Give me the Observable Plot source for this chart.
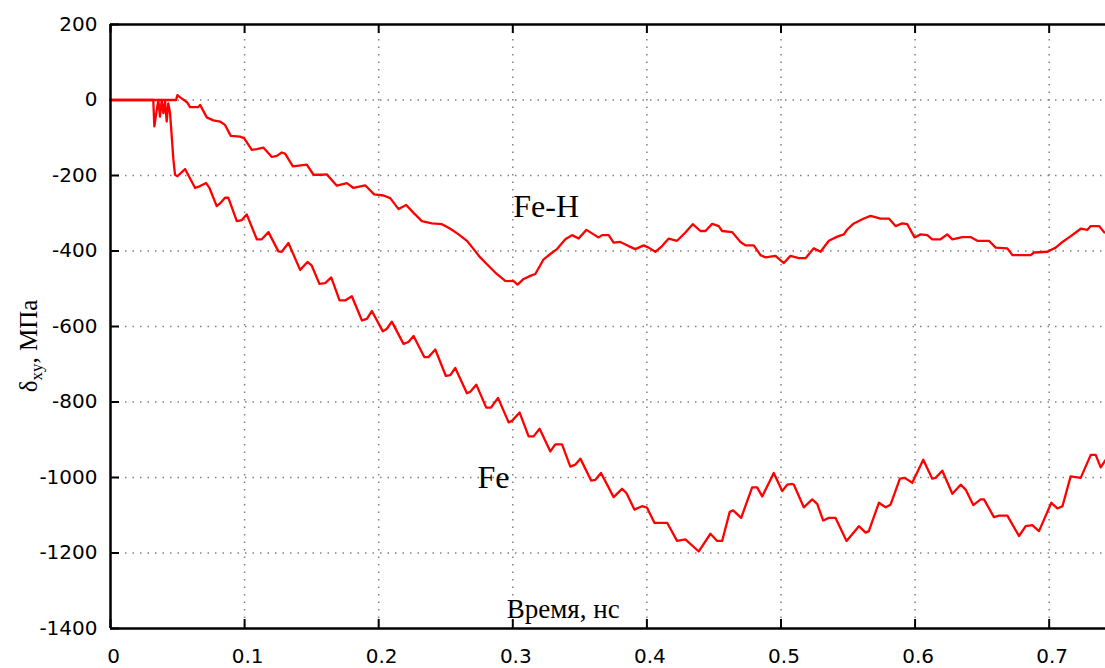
<!DOCTYPE html>
<html>
<head>
<meta charset="utf-8">
<script src="https://cdn.jsdelivr.net/npm/d3@7"></script>
<script src="https://cdn.jsdelivr.net/npm/@observablehq/plot@0.6"></script>
<style>
  html, body { margin: 0; padding: 0; background: #fff; }
  #chart svg { display: block; }
</style>
</head>
<body>
<div id="chart"></div>
<script>
// ---- data ----
const xTicks = [0, 0.1, 0.2, 0.3, 0.4, 0.5, 0.6, 0.7];
const yTicks = [200, 0, -200, -400, -600, -800, -1000, -1200, -1400];
const xTickLabels = ["0", "0.1", "0.2", "0.3", "0.4", "0.5", "0.6", "0.7"];

const feH_t = [0,0.0489,0.0499,0.0519,0.0556,0.0573,0.0593,0.0655,0.0668,0.0718,0.0767,0.0817,0.0854,0.0897,0.0966,0.0996,0.1054,0.1091,0.1140,0.1203,0.1240,0.1277,0.1302,0.1360,0.1464,0.1514,0.1576,0.1613,0.1688,0.1763,0.1812,0.1899,0.1966,0.2036,0.2086,0.2148,0.2205,0.2260,0.2322,0.2397,0.2472,0.2534,0.2596,0.2658,0.2708,0.2757,0.2807,0.2869,0.2944,0.3006,0.3036,0.3081,0.3131,0.3168,0.3230,0.3280,0.3330,0.3392,0.3442,0.3491,0.3549,0.3603,0.3640,0.3666,0.3715,0.3752,0.3802,0.3864,0.3914,0.3976,0.4013,0.4063,0.4113,0.4163,0.4225,0.4287,0.4342,0.4399,0.4437,0.4487,0.4536,0.4561,0.4636,0.4698,0.4735,0.4797,0.4847,0.4884,0.4959,0.5021,0.5071,0.5133,0.5183,0.5245,0.5295,0.5357,0.5420,0.5469,0.5494,0.5543,0.5618,0.5668,0.5743,0.5805,0.5854,0.5904,0.5942,0.5996,0.6041,0.6091,0.6128,0.6190,0.6240,0.6278,0.6352,0.6414,0.6464,0.6551,0.6601,0.6688,0.6726,0.6862,0.6887,0.6987,0.7049,0.7099,0.7148,0.7198,0.7235,0.7285,0.7310,0.7372,0.7409,0.7422];
const feH_s = [0,0,13,7,-2,-7,-19,-19,-13,-46,-54,-57,-66,-95,-97,-101,-132,-130,-126,-151,-148,-139,-142,-176,-171,-198,-198,-197,-227,-220,-233,-226,-250,-253,-260,-289,-278,-299,-321,-327,-329,-341,-356,-373,-395,-417,-435,-457,-479,-480,-489,-474,-466,-461,-422,-408,-395,-369,-358,-367,-344,-356,-364,-358,-358,-378,-376,-387,-395,-385,-391,-402,-387,-367,-373,-351,-329,-347,-347,-328,-334,-347,-350,-376,-385,-385,-411,-417,-413,-432,-413,-419,-419,-393,-402,-373,-362,-356,-343,-327,-314,-307,-314,-314,-334,-327,-329,-364,-356,-358,-369,-369,-356,-369,-363,-363,-373,-373,-391,-393,-411,-411,-404,-402,-391,-376,-364,-351,-341,-344,-334,-334,-350,-352];

const fe_t = [0,0.0319,0.0327,0.0345,0.0357,0.0369,0.0382,0.0394,0.0407,0.0419,0.0431,0.0444,0.0469,0.0481,0.0499,0.0556,0.0631,0.0668,0.0713,0.0738,0.0792,0.0817,0.0854,0.0879,0.0942,0.0979,0.1016,0.1091,0.1128,0.1178,0.1252,0.1277,0.1327,0.1414,0.1469,0.1501,0.1558,0.1601,0.1646,0.1708,0.1750,0.1800,0.1875,0.1912,0.1949,0.2031,0.2061,0.2098,0.2185,0.2222,0.2260,0.2340,0.2372,0.2422,0.2501,0.2534,0.2571,0.2658,0.2683,0.2728,0.2802,0.2837,0.2890,0.2969,0.2994,0.3051,0.3118,0.3155,0.3200,0.3280,0.3317,0.3367,0.3429,0.3466,0.3504,0.3584,0.3616,0.3658,0.3752,0.3815,0.3847,0.3907,0.3964,0.4001,0.4056,0.4151,0.4225,0.4287,0.4387,0.4474,0.4524,0.4561,0.4618,0.4643,0.4703,0.4785,0.4822,0.4860,0.4946,0.5009,0.5046,0.5084,0.5096,0.5170,0.5233,0.5270,0.5315,0.5357,0.5407,0.5489,0.5581,0.5631,0.5655,0.5730,0.5780,0.5817,0.5887,0.5922,0.5979,0.6061,0.6128,0.6153,0.6203,0.6278,0.6340,0.6377,0.6434,0.6489,0.6514,0.6588,0.6626,0.6688,0.6775,0.6825,0.6874,0.6924,0.7016,0.7061,0.7099,0.7160,0.7235,0.7310,0.7347,0.7384,0.7422];
const fe_s = [0,0,-70,-26,0,-44,0,-35,-4,-57,-9,-34,-158,-198,-202,-183,-233,-228,-220,-233,-281,-274,-259,-259,-321,-318,-303,-369,-369,-350,-401,-402,-379,-450,-429,-439,-487,-485,-470,-531,-531,-520,-584,-580,-559,-613,-606,-587,-646,-641,-625,-681,-681,-661,-731,-729,-710,-777,-773,-754,-815,-815,-789,-854,-850,-828,-891,-891,-871,-931,-912,-912,-971,-966,-950,-1008,-1006,-988,-1052,-1030,-1041,-1085,-1076,-1080,-1120,-1120,-1168,-1164,-1196,-1149,-1168,-1168,-1091,-1087,-1107,-1026,-1026,-1050,-988,-1036,-1019,-1017,-1019,-1079,-1058,-1070,-1114,-1107,-1107,-1168,-1129,-1146,-1142,-1067,-1079,-1072,-1003,-1001,-1014,-953,-1003,-1001,-982,-1043,-1019,-1032,-1073,-1058,-1058,-1105,-1101,-1101,-1155,-1129,-1126,-1142,-1067,-1082,-1076,-997,-1001,-940,-940,-973,-953];

const seriesLabels = ["Fe-H", "Fe"];
const seriesLabelX = [0.3004, 0.2736];
const seriesLabelY = [-311, -1027];

const xTitle = "Время, нс";
const yTitleMain = "δ";
const yTitleSub = "xy";
const yTitleRest = ", МПа";

// ---- build ----
const feH = feH_t.map((t, i) => ({t, s: feH_s[i]}));
const fe = fe_t.map((t, i) => ({t, s: fe_s[i]}));
const annots = seriesLabels.map((l, i) => ({l, x: seriesLabelX[i], y: seriesLabelY[i]}));
const gridXT = xTicks.filter(d => d > 0);
const gridYT = yTicks.filter(d => d < 200 && d > -1400);

const W = 1105, H = 668, ML = 110, MR = 0, MT = 24, MB = 40;
const frameW = W - ML - MR, frameH = H - MT - MB;
const tick = 9;

const plot = Plot.plot({
  width: W, height: H,
  marginLeft: ML, marginRight: MR, marginTop: MT, marginBottom: MB,
  style: {fontFamily: "DejaVu Sans", fontSize: "20px", background: "#fff", color: "#000"},
  x: {domain: [0, 0.742]},
  y: {domain: [-1400, 200]},
  marks: [
    Plot.gridX(gridXT, {stroke: "#808080", strokeOpacity: 1, strokeWidth: 1.5, strokeDasharray: "1.5,6"}),
    Plot.gridY(gridYT, {stroke: "#808080", strokeOpacity: 1, strokeWidth: 1.5, strokeDasharray: "1.5,6"}),
    Plot.ruleX(xTicks, {x: d => d, insetTop: frameH - tick, stroke: "#000", strokeWidth: 2}),
    Plot.ruleX(xTicks, {x: d => d, insetBottom: frameH - tick, stroke: "#000", strokeWidth: 2}),
    Plot.ruleY(yTicks, {y: d => d, insetRight: frameW - tick, stroke: "#000", strokeWidth: 2}),
    Plot.axisX({ticks: xTicks, tickSize: 0, tickPadding: 20, tickFormat: (d) => xTickLabels[xTicks.indexOf(d)], label: null, dx: 3, fontSize: 20}),
    Plot.axisY({ticks: yTicks, tickSize: 0, tickPadding: 13, label: null, fontSize: 20, tickFormat: d => String(d)}),
    Plot.line(feH, {x: "t", y: "s", stroke: "#ff0000", strokeWidth: 2.3}),
    Plot.line(fe, {x: "t", y: "s", stroke: "#ff0000", strokeWidth: 2.3}),
    Plot.ruleX([0], {stroke: "#000", strokeWidth: 2.5}),
    Plot.ruleY([200, -1400], {stroke: "#000", strokeWidth: 2.5}),
    Plot.text(annots, {x: "x", y: "y", text: "l", textAnchor: "start", lineAnchor: "bottom", fontFamily: "Liberation Serif", fontSize: 32, fill: "#000"}),
    Plot.text([xTitle], {x: 0.3376, y: -1373, text: d => d, textAnchor: "middle", lineAnchor: "bottom", fontFamily: "Liberation Serif", fontSize: 27, fill: "#000"})
  ]
});

document.getElementById("chart").appendChild(plot);

// rotated y-axis title with subscript
const yt = d3.select(plot).append("text")
  .attr("transform", "translate(37,346) rotate(-90)")
  .attr("text-anchor", "middle")
  .attr("font-family", "Liberation Serif")
  .attr("font-size", 25)
  .attr("fill", "#000");
yt.append("tspan").text(yTitleMain);
yt.append("tspan").attr("font-size", 17).attr("dy", 5).text(yTitleSub);
yt.append("tspan").attr("dy", -5).text(yTitleRest);
</script>
</body>
</html>
